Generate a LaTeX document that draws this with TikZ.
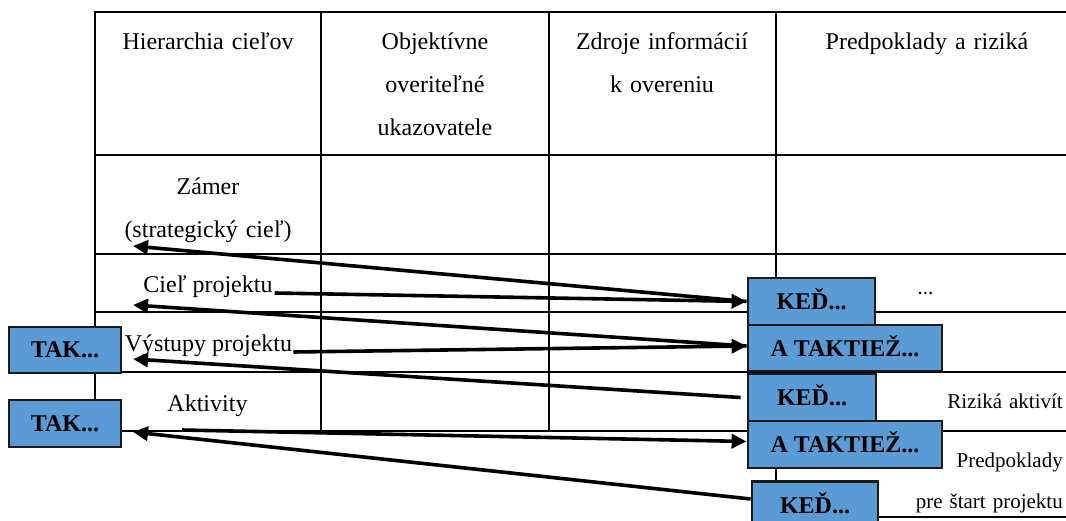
\documentclass[tikz,border=0pt]{standalone}
\usepackage{fontspec}
\setmainfont{Liberation Serif}
\usetikzlibrary{arrows.meta}
\definecolor{boxblue}{HTML}{5B9BD5}
\definecolor{boxline}{HTML}{1A1A1A}

\begin{document}
\begin{tikzpicture}[x=1pt, y=-1pt,
  grid/.style={line width=2.2pt, line cap=rect},
  lbl/.style={font=\fontsize{24}{43}\selectfont, inner sep=0pt, anchor=base},
  cell/.style={lbl, text width=224pt, align=center},
  side/.style={font=\fontsize{21}{41}\selectfont, inner sep=0pt, anchor=base east,
               text width=170pt, align=right},
  tagbox/.style={draw=boxline, line width=2.8pt, fill=boxblue,
                 font=\bfseries\fontsize{24}{28}\selectfont,
                 text height=16pt, text depth=0pt, inner sep=0pt,
                 minimum height=47pt},
  link/.style={line width=3.6pt, -{Triangle[length=15pt, width=14pt]}},
]
\useasboundingbox (0,0) rectangle (1066,521);

% logframe table grid
\draw[grid] (95,12) -- (1066,12);
\foreach \yy in {155,254,312,372,431}
  \draw[grid] (95,\yy) -- (1066,\yy);
\draw[grid] (776,517) -- (1066,517);
\draw[grid] (95,12) -- (95,431);
\draw[grid] (321,12) -- (321,431);
\draw[grid] (549,12) -- (549,431);
\draw[grid] (776,12) -- (776,517);

% header row
\node[cell] (h1) at (208,50) {Hierarchia cieľov};
\node[cell] (h2) at (435,50) {Objektívne\\overiteľné\\ukazovatele};
\node[cell] (h3) at (662,50) {Zdroje informácií\\k overeniu};
\node[cell] (h4) at (927,50) {Predpoklady a riziká};

% hierarchy of objectives
\node[cell] (zm) at (208,195) {Zámer\\(strategický cieľ)};
\node[lbl] (cp) at (208,293) {Cieľ projektu};
\node[lbl] (vp) at (208.5,352) {Výstupy projektu};
\node[lbl] (ak) at (207.5,411) {Aktivity};

% assumptions column
\node[lbl, font=\fontsize{21}{41}\selectfont] (dots) at (925.5,295) {...};
\node[side] (ra) at (1063,408) {Riziká aktivít};
\node[side] (ps) at (1063,467) {Predpoklady\\pre štart projektu};

% condition boxes
\node[tagbox, minimum width=127pt] (k1) at (811.5,301.5) {KEĎ...};
\node[tagbox, minimum width=194pt, minimum height=46pt] (a1) at (845,348) {A TAKTIEŽ...};
\node[tagbox, minimum width=128pt] (k2) at (812,397.5) {KEĎ...};
\node[tagbox, minimum width=194pt] (a2) at (845,444.5) {A TAKTIEŽ...};
\node[tagbox, minimum width=126pt] (k3) at (815,505) {KEĎ...};
\node[tagbox, minimum width=112pt, minimum height=46pt] (t1) at (65,350) {TAK...};
\node[tagbox, minimum width=112pt] (t2) at (65,423.5) {TAK...};

% arrow ends beside the objective labels
\coordinate (z1) at (133,246);
\coordinate (z2) at (133,305);
\coordinate (z3) at (133,359);
\coordinate (z4) at (133,432);
\coordinate (z5) at (182,430);

% vertical logic arrows
\draw[link] (k1.west) -- (z1);
\draw[link] ([xshift=2pt]cp.base east) -- (k1.west);
\draw[link] ([yshift=2pt]a1.west) -- (z2);
\draw[link] ([xshift=1pt]vp.base east) -- ([yshift=2pt]a1.west);
\draw[link] ([xshift=-6pt]k2.west) -- (z3);
\draw[link] (z5) -- ([yshift=3pt]a2.west);
\draw[link] ([yshift=6pt]k3.west) -- (z4);
\end{tikzpicture}
\end{document}
